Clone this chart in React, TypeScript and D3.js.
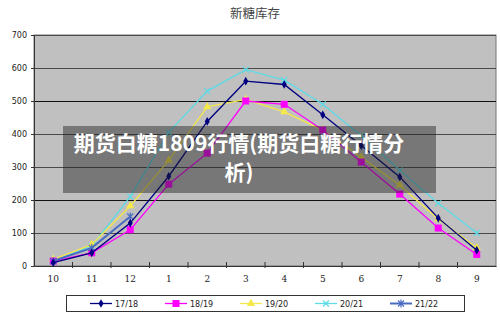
import React, { useEffect, useRef } from "react";
import * as d3 from "d3";

const months = ["10", "11", "12", "1", "2", "3", "4", "5", "6", "7", "8", "9"];
const yTicks = [0, 100, 200, 300, 400, 500, 600, 700];
const seriesNames = ["17/18", "18/19", "19/20", "20/21", "21/22"];
const s1718 = [10, 40, 130, 272, 438, 560, 550, 458, 365, 270, 145, 48];
const s1819 = [15, 40, 110, 248, 342, 500, 490, 412, 315, 218, 115, 35];
const s1920 = [20, 65, 182, 320, 482, 505, 467, 412, 330, 245, 142, 55];
const s2021 = [15, 60, 210, 405, 530, 595, 563, 490, 395, 290, 190, 100];
const s2122 = [15, 55, 150, null, null, null, null, null, null, null, null, null];

const colors = ["#000080", "#ff00ff", "#f5e84a", "#5cdbe6", "#4a6cc0"];
const markers = ["diamond", "square", "triangle", "cross", "star"];

const App = () => {
  const ref = useRef<SVGSVGElement>(null);

  useEffect(() => {
    const svg = d3.select(ref.current);
    svg.selectAll("*").remove();

    const width = 500;
    const height = 320;
    const margin = { top: 35, right: 4, bottom: 54, left: 34 };

    svg.attr("width", width).attr("height", height);

    const x = d3
      .scaleBand()
      .domain(months)
      .range([margin.left, width - margin.right]);

    const y = d3
      .scaleLinear()
      .domain([0, 700])
      .range([height - margin.bottom, margin.top]);

    // title
    svg
      .append("text")
      .attr("x", 255)
      .attr("y", 18)
      .attr("text-anchor", "middle")
      .attr("font-family", "Noto Sans CJK SC")
      .attr("font-size", 12.5)
      .attr("fill", "#444")
      .text("新糖库存");

    // plot background
    svg
      .append("rect")
      .attr("x", margin.left)
      .attr("y", margin.top)
      .attr("width", width - margin.left - margin.right)
      .attr("height", height - margin.top - margin.bottom)
      .attr("fill", "#c0c0c0")
      .attr("stroke", "#777");

    // gridlines
    svg
      .append("g")
      .selectAll("line")
      .data(yTicks.filter((t) => t > 0))
      .enter()
      .append("line")
      .attr("x1", margin.left)
      .attr("x2", width - margin.right)
      .attr("y1", (d) => Math.round(y(d)) + 0.5)
      .attr("y2", (d) => Math.round(y(d)) + 0.5)
      .attr("stroke", (d) => (d === 500 || d === 200 ? "#111" : "#4a4a4a"))
      .attr("stroke-width", 1);

    // y axis
    const yAxis = svg
      .append("g")
      .attr("transform", `translate(${margin.left},0)`)
      .call(d3.axisLeft(y).tickValues(yTicks).tickSize(3).tickPadding(4));
    yAxis.select(".domain").attr("stroke", "#333");
    yAxis.selectAll("line").attr("stroke", "#333");
    yAxis
      .selectAll("text")
      .attr("font-family", "DejaVu Sans")
      .attr("font-size", 8)
      .attr("fill", "#222");

    // x axis
    const xAxis = svg
      .append("g")
      .attr("transform", `translate(0,${height - margin.bottom})`)
      .call(d3.axisBottom(x).tickSize(0).tickPadding(10));
    xAxis.select(".domain").attr("stroke", "#333");
    xAxis
      .selectAll("text")
      .attr("font-family", "DejaVu Serif")
      .attr("font-size", 9)
      .attr("fill", "#222");

    // band boundary ticks
    svg
      .append("g")
      .selectAll("line")
      .data(months.slice(1))
      .enter()
      .append("line")
      .attr("x1", (d) => x(d)!)
      .attr("x2", (d) => x(d)!)
      .attr("y1", y(0) - 4)
      .attr("y2", y(0) + 2)
      .attr("stroke", "#333");

    const allSeries = [s1718, s1819, s1920, s2021, s2122];

    const drawMarker = (g: any, kind: string, cx: number, cy: number, color: string) => {
      if (kind === "diamond") {
        g.append("path")
          .attr("d", d3.symbol(d3.symbolDiamond, 22)())
          .attr("transform", `translate(${cx},${cy})`)
          .attr("fill", color);
      } else if (kind === "square") {
        g.append("rect")
          .attr("x", cx - 3.5)
          .attr("y", cy - 3.5)
          .attr("width", 7)
          .attr("height", 7)
          .attr("fill", color);
      } else if (kind === "triangle") {
        g.append("path")
          .attr("d", d3.symbol(d3.symbolTriangle, 30)())
          .attr("transform", `translate(${cx},${cy})`)
          .attr("fill", color);
      } else if (kind === "cross") {
        g.append("path")
          .attr("d", `M${cx - 3},${cy - 3}L${cx + 3},${cy + 3}M${cx - 3},${cy + 3}L${cx + 3},${cy - 3}`)
          .attr("stroke", color)
          .attr("stroke-width", 1.2);
      } else {
        g.append("path")
          .attr(
            "d",
            `M${cx - 3},${cy - 3}L${cx + 3},${cy + 3}M${cx - 3},${cy + 3}L${cx + 3},${cy - 3}M${cx},${cy - 4}L${cx},${cy + 4}`
          )
          .attr("stroke", color)
          .attr("stroke-width", 1.2);
      }
    };

    const line = d3
      .line<number | null>()
      .defined((d) => d !== null)
      .x((_, i) => x(months[i])! + x.bandwidth() / 2)
      .y((d) => y(d as number));

    const order = [3, 2, 1, 4, 0];
    order.forEach((si) => {
      const vals = allSeries[si];
      const g = svg.append("g");
      g.append("path")
        .datum(vals)
        .attr("d", line)
        .attr("fill", "none")
        .attr("stroke", colors[si])
        .attr("stroke-width", si === 4 ? 2 : 1.3);
      vals.forEach((v, i) => {
        if (v === null) return;
        drawMarker(g, markers[si], x(months[i])! + x.bandwidth() / 2, y(v), colors[si]);
      });
    });

    // legend
    const legend = svg.append("g");
    legend
      .append("rect")
      .attr("x", 66.5)
      .attr("y", 295.5)
      .attr("width", 398)
      .attr("height", 16)
      .attr("fill", "#fff")
      .attr("stroke", "#333");
    seriesNames.forEach((name, i) => {
      const lx = 90 + i * 75;
      const ly = 303.5;
      legend
        .append("line")
        .attr("x1", lx)
        .attr("x2", lx + 22)
        .attr("y1", ly)
        .attr("y2", ly)
        .attr("stroke", colors[i])
        .attr("stroke-width", i === 4 ? 2 : 1.3);
      drawMarker(legend, markers[i], lx + 11, ly, colors[i]);
      legend
        .append("text")
        .attr("x", lx + 25)
        .attr("y", ly + 3)
        .attr("font-family", "DejaVu Sans")
        .attr("font-size", 8)
        .attr("fill", "#222")
        .text(name);
    });

    // overlay caption
    svg
      .append("rect")
      .attr("x", 63)
      .attr("y", 126)
      .attr("width", 373)
      .attr("height", 67)
      .attr("fill", "rgba(30,30,30,0.45)");
    const caption = ["期货白糖1809行情(期货白糖行情分", "析)"];
    caption.forEach((t, i) => {
      svg
        .append("text")
        .attr("x", 239)
        .attr("y", 151 + i * 29)
        .attr("text-anchor", "middle")
        .attr("font-family", "Noto Sans CJK SC")
        .attr("font-weight", "bold")
        .attr("font-size", 21)
        .attr("fill", "#fff")
        .text(t);
    });
  }, []);

  return <svg ref={ref} style={{ position: "absolute", left: 0, top: 0 }}></svg>;
};

export default App;
